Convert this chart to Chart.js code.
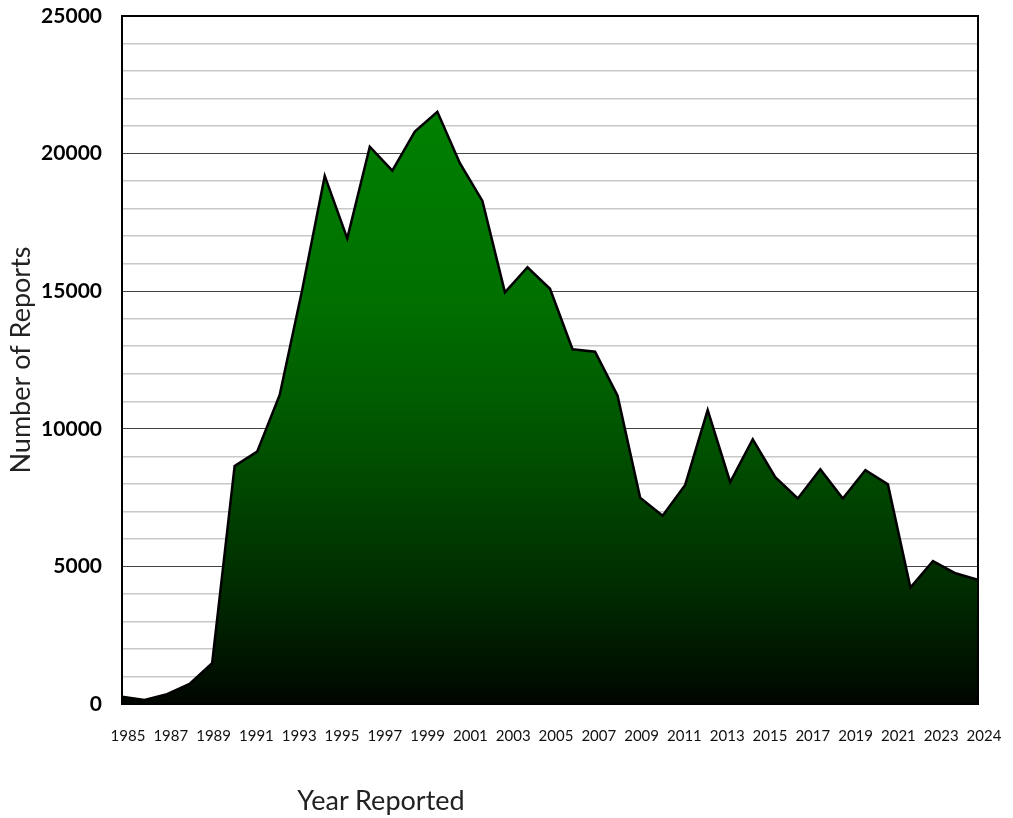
<!DOCTYPE html>
<html>
<head>
<meta charset="utf-8">
<script src="https://cdn.jsdelivr.net/npm/chart.js@4/dist/chart.umd.min.js"></script>
<style>
    body { margin: 0; background: #fff; }
    #wrap { position: relative; width: 1013px; height: 818px; }
    #xTitle {
        position: absolute; left: 231px; width: 300px; top: 783px;
        text-align: center; font-family: Lato, sans-serif; font-size: 27px; color: #222;
    }
</style>
</head>
<body>
<div id="wrap">
    <canvas id="reportsChart" width="1013" height="818"></canvas>
    <div id="xTitle">Year Reported</div>
</div>
<script>
// Reports per year (39 points on the drawn line)
const reportCounts = [
    260, 150, 360, 730, 1480, 8650, 9170, 11230, 15050, 19190,
    16920, 20250, 19380, 20800, 21520, 19650, 18280, 14960, 15870, 15090,
    12890, 12800, 11200, 7500, 6840, 7960, 10680, 8060, 9620, 8240,
    7470, 8530, 7470, 8500, 7980, 4230, 5190, 4750, 4510
];

// Labels printed under the axis
const yearLabels = [
    '1985', '1987', '1989', '1991', '1993', '1995', '1997', '1999', '2001', '2003',
    '2005', '2007', '2009', '2011', '2013', '2015', '2017', '2019', '2021', '2023', '2024'
];

const yMax = 25000;
const yStep = 1000;
const yLabelStep = 5000;

const points = reportCounts.map((v, i) => ({ x: i, y: v }));

// black frame round the plot area
const frame = {
    id: 'frame',
    afterDatasetsDraw(chart) {
        const a = chart.chartArea;
        const ctx = chart.ctx;
        ctx.save();
        ctx.strokeStyle = '#000';
        ctx.lineWidth = 2;
        ctx.strokeRect(a.left, a.top, a.right - a.left, a.bottom - a.top);
        ctx.restore();
    }
};

function greenFill(context) {
    const chart = context.chart;
    const a = chart.chartArea;
    if (!a) return '#006000';
    const g = chart.ctx.createLinearGradient(0, a.top, 0, a.bottom);
    g.addColorStop(0, 'rgb(0,132,0)');
    g.addColorStop(0.14, 'rgb(0,128,0)');
    g.addColorStop(0.41, 'rgb(0,112,0)');
    g.addColorStop(0.56, 'rgb(0,92,0)');
    g.addColorStop(0.70, 'rgb(0,68,0)');
    g.addColorStop(0.85, 'rgb(0,40,0)');
    g.addColorStop(1, 'rgb(0,6,0)');
    return g;
}

new Chart(document.getElementById('reportsChart'), {
    type: 'line',
    data: {
        datasets: [{
            data: points,
            borderColor: '#000',
            borderWidth: 2.5,
            backgroundColor: greenFill,
            fill: 'origin',
            pointRadius: 0,
            tension: 0,
            xAxisID: 'x',
            yAxisID: 'y'
        }]
    },
    options: {
        responsive: false,
        animation: false,
        layout: { padding: { top: 16, right: 35, left: 0, bottom: 0 } },
        plugins: { legend: { display: false }, tooltip: { enabled: false } },
        scales: {
            x: {
                type: 'linear',
                min: 0,
                max: reportCounts.length - 1,
                display: false
            },
            x2: {
                type: 'category',
                labels: yearLabels,
                position: 'bottom',
                offset: false,
                grid: { display: false, drawTicks: false },
                border: { display: false },
                ticks: {
                    autoSkip: false,
                    maxRotation: 0,
                    padding: 23,
                    labelOffset: 6,
                    color: '#111',
                    font: { family: 'Lato', size: 15 }
                },
                afterFit: s => {
                    s.height = 818 - 704;
                    s.paddingLeft = 0;
                    s.paddingRight = 0;
                }
            },
            y: {
                min: 0,
                max: yMax,
                grid: {
                    drawTicks: false,
                    color: c => (c.tick.value % yLabelStep === 0 ? '#444' : '#c8c8c8'),
                    lineWidth: c => (c.tick.value % yLabelStep === 0 ? 1 : 1.5)
                },
                border: { display: false },
                ticks: {
                    stepSize: yStep,
                    autoSkip: false,
                    maxTicksLimit: 50,
                    padding: 20,
                    color: '#000',
                    font: { family: 'Lato', size: 21, weight: 'bold' },
                    callback: v => (v % yLabelStep === 0 ? String(v) : '')
                },
                title: {
                    display: true,
                    text: 'Number of Reports',
                    color: '#222',
                    font: { family: 'Lato', size: 27 },
                    padding: { top: 5, bottom: 0 }
                },
                afterFit: s => {
                    s.width = 122;
                    s.paddingTop = 0;
                    s.paddingBottom = 0;
                }
            }
        }
    },
    plugins: [frame]
});
</script>
</body>
</html>
